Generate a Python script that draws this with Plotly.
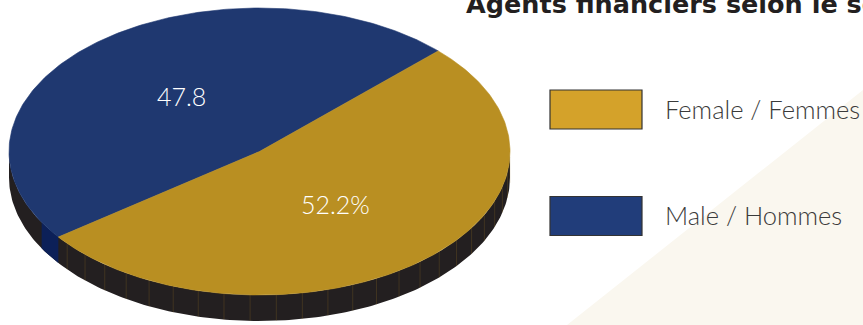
import numpy as np
import plotly.graph_objects as go

# ---- data ----
categories = ["Female / Femmes", "Male / Hommes"]
values = [52.2, 47.8]
value_labels = ["52.2%", "47.8"]
title_text = "Agents financiers selon le sexe"

# ---- style ----
pie_colors = ["#B98F22", "#1F3870"]
legend_colors = ["#D4A22A", "#213D7A"]
side_color = "#231F20"
W, H = 863, 325
cx, cy, a, b, depth = 259.5, 151.5, 250.5, 143.5, 26
rot = 44.5          # start angle of first drawn slice (deg, CCW)
draw_order = [1, 0]  # male first, counter-clockwise
label_r = 0.48

total = float(sum(values))
spans = [v / total * 360.0 for v in values]
start = {}
ang = rot
for i in draw_order:
    start[i] = ang
    ang += spans[i]


def pts(t0, t1, dy=0.0, n=200):
    t = np.radians(np.linspace(t0, t1, n))
    return list(cx + a * np.cos(t)), list(cy - b * np.sin(t) + dy)


fig = go.Figure()

# background triangle
fig.add_shape(type="path", path=f"M 567 {H} L {W} {H} L {W} 90 Z",
              fillcolor="#FAF7EF", line=dict(width=0), layer="below",
              xref="x", yref="y")

# side (extrusion)
x1, y1 = pts(180, 360)
x2, y2 = pts(360, 180, dy=depth)
fig.add_trace(go.Scatter(x=x1 + x2, y=y1 + y2, fill="toself", mode="lines",
                         fillcolor=side_color, line=dict(width=0, color=side_color),
                         hoverinfo="skip", showlegend=False))

# cut face of male slice visible on the side
bnd = start[1] + spans[1]
x1, y1 = pts(bnd - 7, bnd, n=20)
x2, y2 = pts(bnd, bnd - 7, dy=depth, n=20)
fig.add_trace(go.Scatter(x=x1 + x2, y=y1 + y2, fill="toself", mode="lines",
                         fillcolor="#0C2058", line=dict(width=0, color="#0C2058"),
                         hoverinfo="skip", showlegend=False))

# facet lines on female side
fx, fy = [], []
t = 3.85
while t < 360:
    if bnd + 1 < t < 360:
        r = np.radians(t)
        xx = cx + a * np.cos(r)
        yy = cy - b * np.sin(r)
        fx += [xx, xx, None]
        fy += [yy, yy + depth, None]
    t += 6
fig.add_trace(go.Scatter(x=fx, y=fy, mode="lines",
                         line=dict(width=0.7, color="rgba(140,108,35,0.4)"),
                         hoverinfo="skip", showlegend=False))

# top faces
for i in draw_order:
    xs, ys = pts(start[i], start[i] + spans[i])
    fig.add_trace(go.Scatter(x=[cx] + xs + [cx], y=[cy] + ys + [cy], fill="toself",
                             mode="lines", fillcolor=pie_colors[i],
                             line=dict(width=0.6, color=pie_colors[i]),
                             hoverinfo="skip", showlegend=False))

# labels
for i in draw_order:
    mid = np.radians(start[i] + spans[i] / 2)
    dy = -3 if i == 1 else 0
    fig.add_annotation(x=cx + label_r * a * np.cos(mid) - (2 if i == 0 else 0),
                       y=cy - label_r * b * np.sin(mid) + dy,
                       text=value_labels[i], showarrow=False, xref="x", yref="y",
                       font=dict(family="Lato", size=25, color="white", weight=300))

# legend
for k, name in enumerate(categories):
    y0 = 90 + k * 106.5
    fig.add_shape(type="rect", x0=550, x1=642, y0=y0, y1=y0 + 39,
                  fillcolor=legend_colors[k], line=dict(color="#333333", width=1.2),
                  xref="x", yref="y")
    fig.add_annotation(x=663, y=y0 + 18.5, text=name, showarrow=False,
                       xanchor="left", yanchor="middle", xref="x", yref="y",
                       font=dict(family="Lato", size=25.5, color="#3A3A3A", weight=300))

# title (cut at top and right, like the reference)
fig.add_annotation(x=464, y=21, text=f"<b>{title_text}</b>", showarrow=False,
                   xanchor="left", yanchor="bottom", xref="x", yref="y",
                   font=dict(family="DejaVu Sans", size=25.5, color="#231F20"))

fig.update_layout(width=W, height=H, margin=dict(l=0, r=0, t=0, b=0),
                  paper_bgcolor="white", plot_bgcolor="white", showlegend=False,
                  xaxis=dict(range=[0, W], visible=False, fixedrange=True),
                  yaxis=dict(range=[H, 0], visible=False, fixedrange=True))

fig.write_html("out.html")
